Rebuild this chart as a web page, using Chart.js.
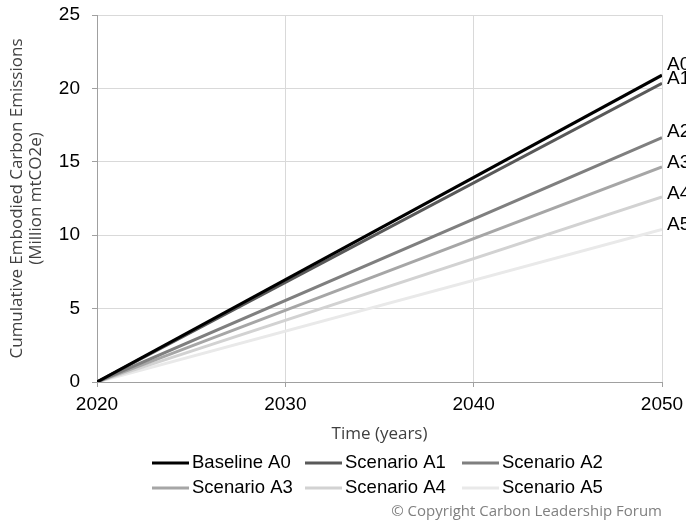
<!DOCTYPE html>
<html>
<head>
<meta charset="utf-8">
<script src="https://cdn.jsdelivr.net/npm/chart.js@4"></script>
<style>
html,body{margin:0;padding:0;background:#fff;}
#wrap{width:686px;height:525px;position:relative;}
</style>
</head>
<body>
<div id="wrap"><canvas id="c" width="686" height="525"></canvas></div>
<script>
// ---- data ----
const years = [2020, 2050];
const seriesNames = ['Baseline A0', 'Scenario A1', 'Scenario A2', 'Scenario A3', 'Scenario A4', 'Scenario A5'];
const endLabels = ['A0', 'A1', 'A2', 'A3', 'A4', 'A5'];
const baselineA0 = [0, 20.9];
const scenarioA1 = [0, 20.35];
const scenarioA2 = [0, 16.65];
const scenarioA3 = [0, 14.65];
const scenarioA4 = [0, 12.6];
const scenarioA5 = [0, 10.4];
const yTicks = [0, 5, 10, 15, 20, 25];
const xTicks = [2020, 2030, 2040, 2050];

// ---- styles ----
const colors = ['#000000', '#595959', '#7f7f7f', '#a6a6a6', '#d2d2d2', '#e9e9e9'];
const labelOffsets = [-10, -4, -6, -4, -3, -5];
const allSeries = [baselineA0, scenarioA1, scenarioA2, scenarioA3, scenarioA4, scenarioA5];

const datasets = allSeries.map((vals, i) => ({
  label: seriesNames[i],
  data: vals.map((v, j) => ({x: years[j], y: v})),
  borderColor: colors[i],
  backgroundColor: colors[i],
  borderWidth: 3,
  pointRadius: 0,
  tension: 0,
  fill: false,
  order: i
}));

const tickFont = {family: '"Liberation Sans", Arial, sans-serif', size: 19};

const extras = {
  id: 'extras',
  afterDatasetsDraw(chart) {
    const ctx = chart.ctx;
    const xs = chart.scales.x, ys = chart.scales.y;
    ctx.save();
    // end labels
    ctx.font = '19px "Liberation Sans", Arial, sans-serif';
    ctx.fillStyle = '#000';
    ctx.textAlign = 'left';
    ctx.textBaseline = 'middle';
    allSeries.forEach((vals, i) => {
      const px = xs.getPixelForValue(years[years.length - 1]);
      const py = ys.getPixelForValue(vals[vals.length - 1]);
      ctx.fillText(endLabels[i], px + 5, py + labelOffsets[i]);
    });
    // axis titles
    ctx.fillStyle = '#404040';
    ctx.font = '17px "Open Sans", sans-serif';
    ctx.textAlign = 'center';
    ctx.fillText('Time (years)', (chart.chartArea.left + chart.chartArea.right) / 2, 434);
    const cy = (chart.chartArea.top + chart.chartArea.bottom) / 2;
    ctx.translate(0, cy);
    ctx.rotate(-Math.PI / 2);
    ctx.fillText('Cumulative Embodied Carbon Emissions', 0, 17);
    ctx.fillText('(Million mtCO2e)', 0, 36);
    ctx.restore();

    // legend
    ctx.save();
    const cols = [152, 305, 462];
    const rows = [463, 488];
    ctx.font = '18.5px "Liberation Sans", Arial, sans-serif';
    ctx.textBaseline = 'middle';
    ctx.textAlign = 'left';
    chart.data.datasets.forEach((d, i) => {
      const x = cols[i % 3], y = rows[Math.floor(i / 3)];
      ctx.strokeStyle = d.borderColor;
      ctx.lineWidth = 3;
      ctx.beginPath();
      ctx.moveTo(x, y);
      ctx.lineTo(x + 37, y);
      ctx.stroke();
      ctx.fillStyle = '#000';
      ctx.fillText(d.label, x + 40, y);
    });
    // copyright
    ctx.font = '15px "Open Sans", sans-serif';
    ctx.fillStyle = '#808080';
    ctx.textAlign = 'right';
    ctx.fillText('\u00A9 Copyright Carbon Leadership Forum', 662, 512);
    ctx.restore();
  }
};

new Chart(document.getElementById('c'), {
  type: 'line',
  data: {datasets},
  options: {
    responsive: false,
    animation: false,
    layout: {padding: {top: 15, right: 24, bottom: 0, left: 0}},
    plugins: {legend: {display: false}, tooltip: {enabled: false}},
    scales: {
      x: {
        type: 'linear',
        min: xTicks[0],
        max: xTicks[xTicks.length - 1],
        afterBuildTicks: s => { s.ticks = xTicks.map(v => ({value: v})); },
        afterFit: s => { s.height = 143; s.paddingLeft = 0; s.paddingRight = 0; },
        ticks: {font: tickFont, color: '#000', padding: 6, maxRotation: 0, callback: v => String(v)},
        grid: {color: '#d9d9d9', lineWidth: 1, tickLength: 5, tickColor: '#a0a0a0'},
        border: {color: '#a0a0a0', width: 1}
      },
      y: {
        min: yTicks[0],
        max: yTicks[yTicks.length - 1],
        afterBuildTicks: s => { s.ticks = yTicks.map(v => ({value: v})); },
        afterFit: s => { s.width = 97; s.paddingTop = 0; s.paddingBottom = 0; },
        ticks: {font: tickFont, color: '#000', padding: 12},
        grid: {color: '#d9d9d9', lineWidth: 1, tickLength: 5, tickColor: '#a0a0a0'},
        border: {color: '#a0a0a0', width: 1}
      }
    }
  },
  plugins: [extras]
});
</script>
</body>
</html>
